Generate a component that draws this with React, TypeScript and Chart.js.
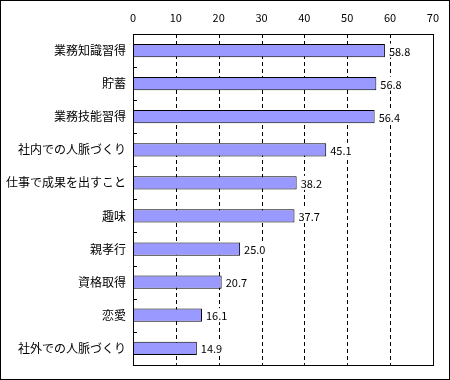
import { useEffect, useRef } from "react";
import { Chart, registerables } from "chart.js";

Chart.register(...registerables);

const categories = [
  "業務知識習得",
  "貯蓄",
  "業務技能習得",
  "社内での人脈づくり",
  "仕事で成果を出すこと",
  "趣味",
  "親孝行",
  "資格取得",
  "恋愛",
  "社外での人脈づくり",
];
const values = [58.8, 56.8, 56.4, 45.1, 38.2, 37.7, 25.0, 20.7, 16.1, 14.9];
const xMin = 0;
const xMax = 70;
const xStep = 10;

const FONT = '"Noto Sans CJK JP", "Noto Sans", sans-serif';

const framePlugin = {
  id: "framePlugin",
  beforeDatasetsDraw(chart: any) {
    const { ctx, chartArea } = chart;
    const xs = chart.scales.x;
    ctx.save();
    ctx.strokeStyle = "#000";
    ctx.lineWidth = 1;
    ctx.setLineDash([4, 3]);
    for (let v = xMin + xStep; v < xMax; v += xStep) {
      const px = Math.round(xs.getPixelForValue(v)) + 0.5;
      ctx.beginPath();
      ctx.moveTo(px, chartArea.top);
      ctx.lineTo(px, chartArea.bottom);
      ctx.stroke();
    }
    ctx.restore();
  },
  afterDatasetsDraw(chart: any) {
    const { ctx, chartArea } = chart;
    const xs = chart.scales.x;
    const ys = chart.scales.y;
    ctx.save();
    ctx.strokeStyle = "#000";
    ctx.lineWidth = 1;
    ctx.setLineDash([]);
    ctx.strokeRect(
      Math.round(chartArea.left) + 0.5,
      Math.round(chartArea.top) + 0.5,
      Math.round(chartArea.right - chartArea.left),
      Math.round(chartArea.bottom - chartArea.top)
    );
    // category boundary ticks
    const n = categories.length;
    const step = (chartArea.bottom - chartArea.top) / n;
    for (let i = 1; i < n; i++) {
      const py = Math.round(ys.getPixelForValue(i) - step / 2) + 0.5;
      ctx.beginPath();
      ctx.moveTo(chartArea.left, py);
      ctx.lineTo(chartArea.left + 4, py);
      ctx.stroke();
    }
    // value labels
    ctx.font = `11px ${FONT}`;
    ctx.textAlign = "left";
    ctx.textBaseline = "middle";
    values.forEach((v, i) => {
      const px = xs.getPixelForValue(v);
      const py = ys.getPixelForValue(i);
      const txt = v.toFixed(1);
      const w = ctx.measureText(txt).width;
      ctx.fillStyle = "#fff";
      ctx.fillRect(px + 2, py - 7, w + 4, 14);
      ctx.fillStyle = "#000";
      ctx.fillText(txt, px + 4, py + 1);
    });
    ctx.restore();
  },
};

export default function App() {
  const ref = useRef<HTMLCanvasElement>(null);
  useEffect(() => {
    if (!ref.current) return;
    const chart = new Chart(ref.current, {
      type: "bar",
      data: {
        labels: categories,
        datasets: [
          {
            data: values,
            backgroundColor: "#9999FF",
            borderColor: "#000",
            borderWidth: 1,
            borderSkipped: false,
            barPercentage: 0.4,
            categoryPercentage: 1,
          },
        ],
      },
      options: {
        indexAxis: "y",
        animation: false,
        responsive: true,
        maintainAspectRatio: false,
        layout: { padding: { left: 0, right: 16, top: 0, bottom: 4 } },
        plugins: {
          legend: { display: false },
          tooltip: { enabled: false },
        },
        scales: {
          x: {
            position: "top",
            min: xMin,
            max: xMax,
            ticks: {
              stepSize: xStep,
              padding: 10,
              color: "#000",
              font: { family: FONT, size: 11 },
            },
            grid: { display: false, drawTicks: false },
            border: { display: false },
            afterFit(scale: any) {
              scale.height = 33;
            },
          },
          y: {
            ticks: {
              padding: 7,
              color: "#000",
              font: { family: FONT, size: 12 },
            },
            grid: { display: false, drawTicks: false },
            border: { display: false },
            afterFit(scale: any) {
              scale.width = 132;
            },
          },
        },
      },
      plugins: [framePlugin],
    } as any);
    return () => chart.destroy();
  }, []);

  return (
    <div
      style={{
        position: "fixed",
        left: 0,
        top: 0,
        width: 450,
        height: 380,
        boxSizing: "border-box",
        border: "1px solid #000",
        background: "#fff",
      }}
    >
      <div style={{ position: "relative", width: 448, height: 378 }}>
        <canvas ref={ref} />
      </div>
    </div>
  );
}
